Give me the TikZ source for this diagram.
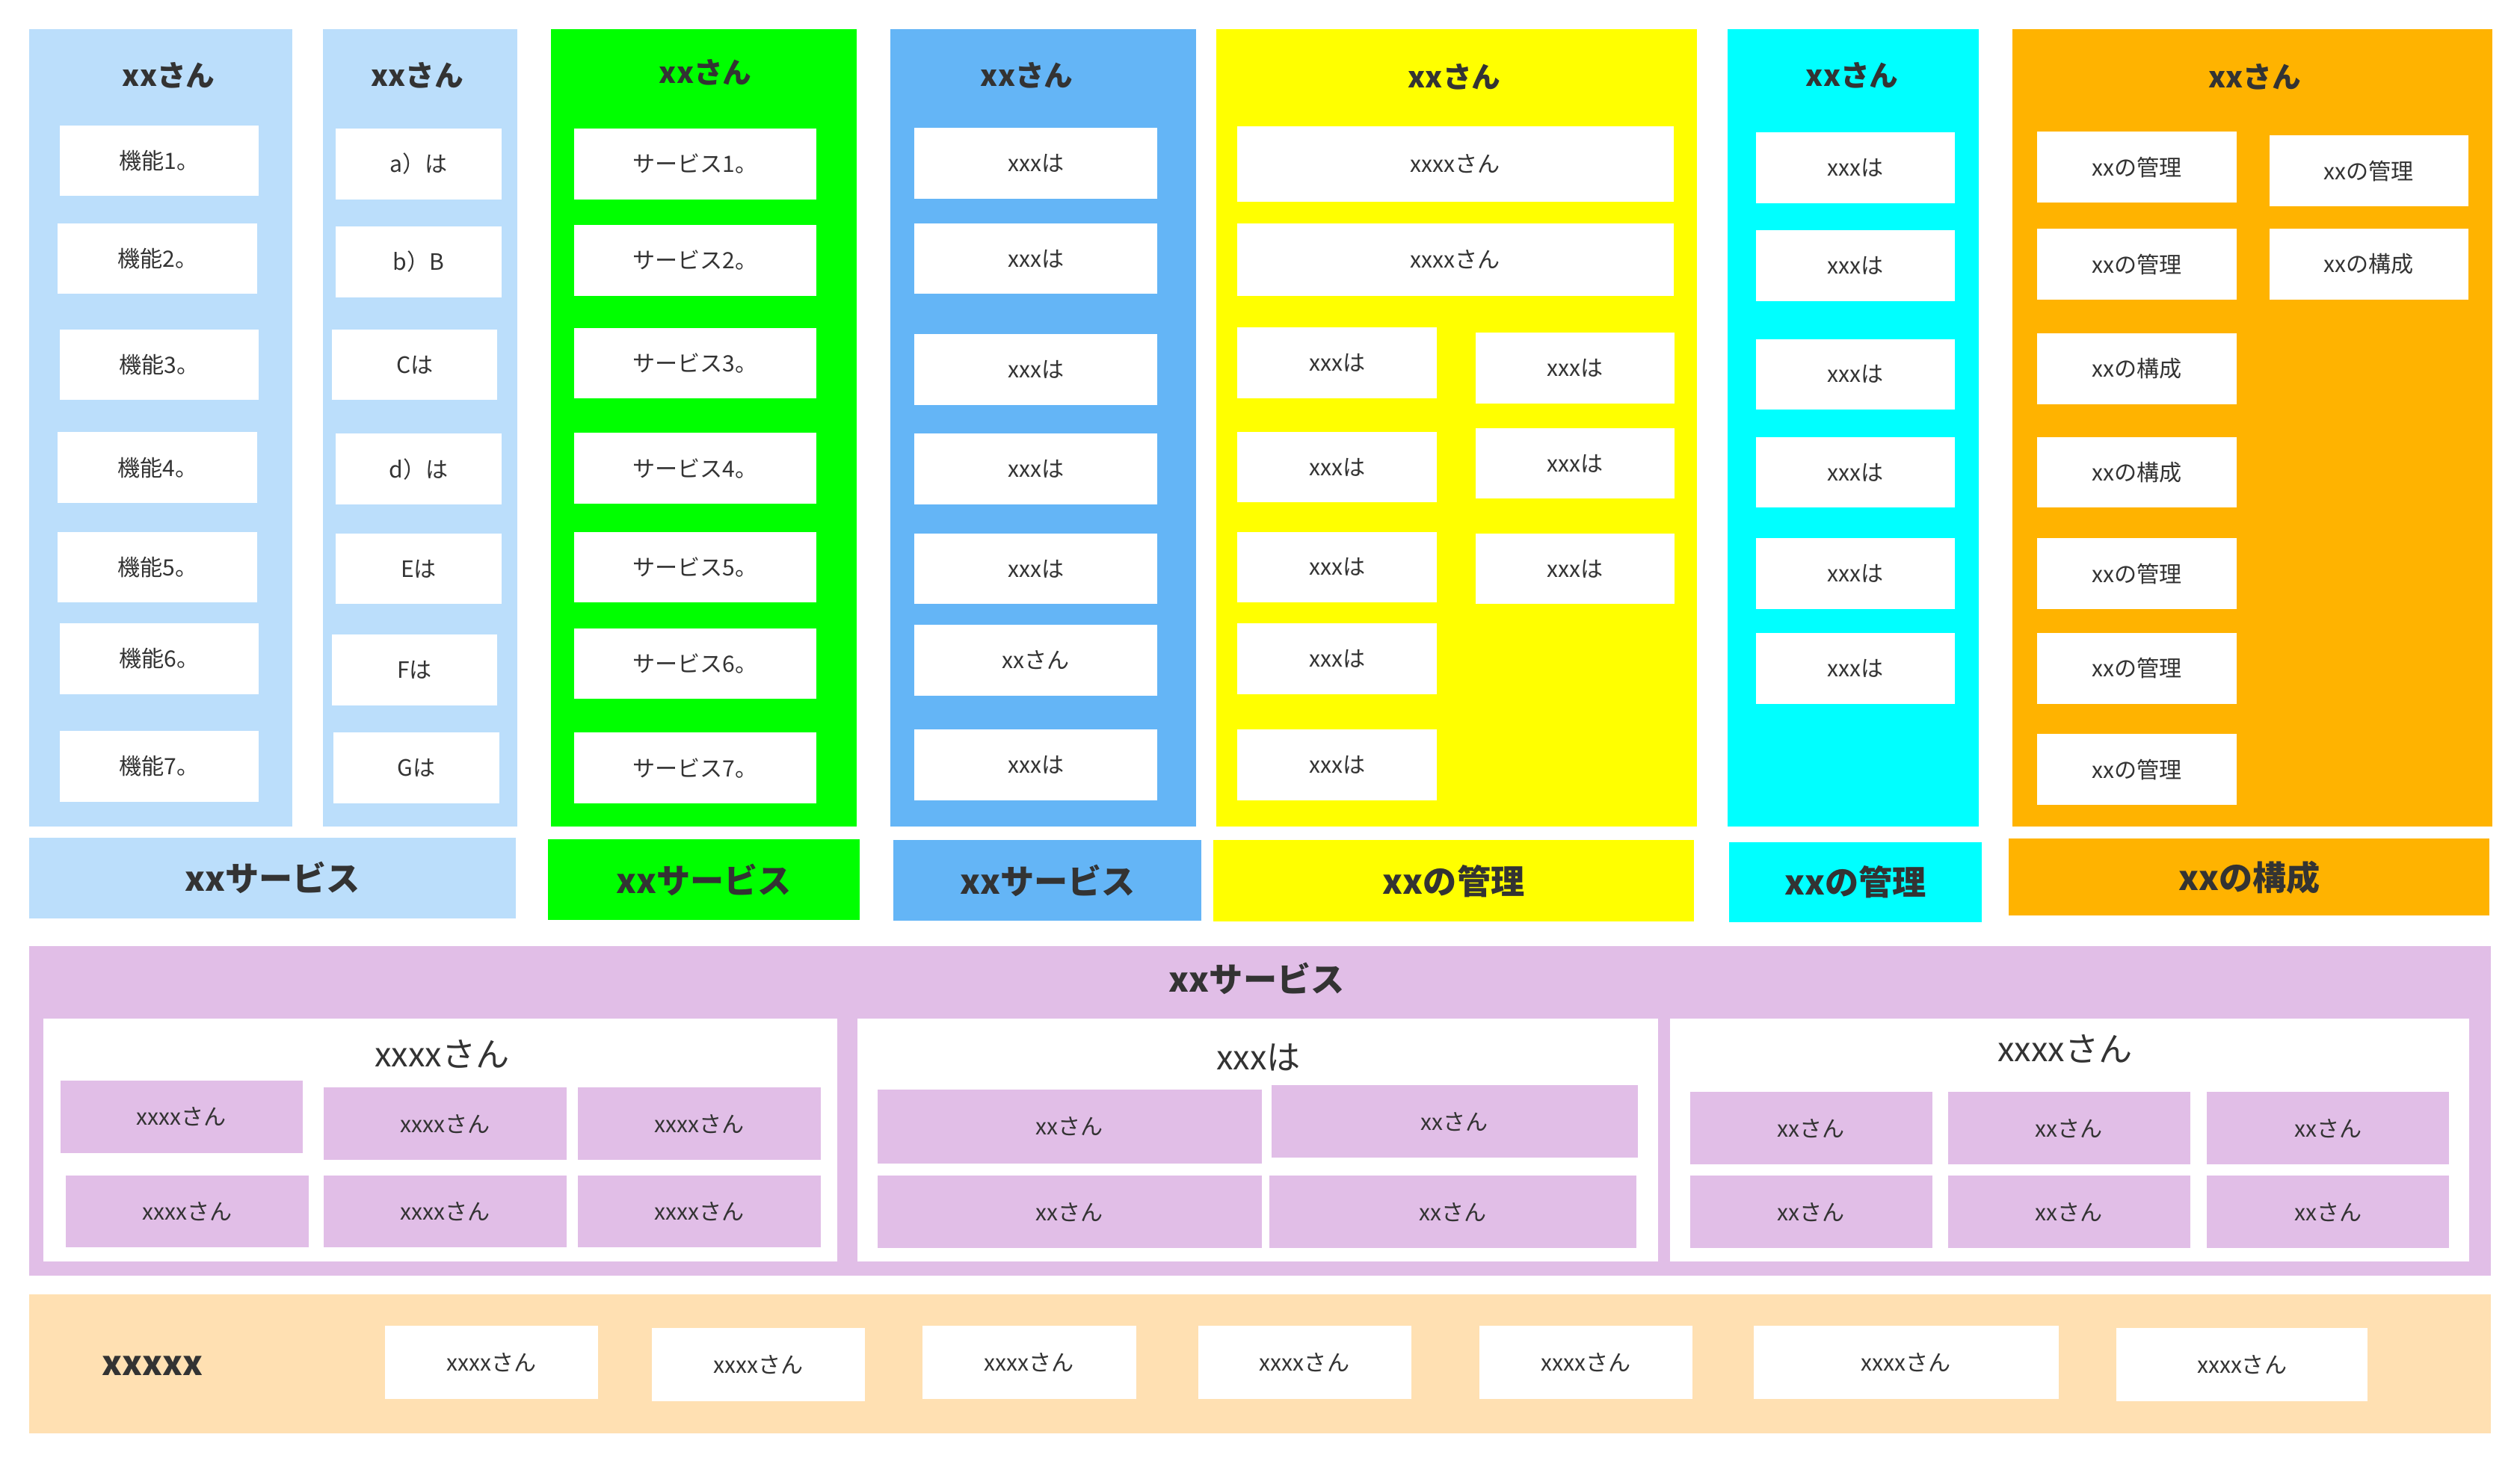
\documentclass[tikz,border=0pt]{standalone}
\usepackage{fontspec}
\setmainfont{Noto Sans CJK JP}
\usepackage{xcolor}
\usetikzlibrary{positioning}

\definecolor{txtgray}{HTML}{333333}
\definecolor{lblue}{HTML}{BBDEFB}
\definecolor{lgreen}{HTML}{00FF00}
\definecolor{mblue}{HTML}{64B5F6}
\definecolor{lyellow}{HTML}{FFFF00}
\definecolor{lcyan}{HTML}{00FFFF}
\definecolor{lorange}{HTML}{FFB300}
\definecolor{lpurple}{HTML}{E1BEE7}
\definecolor{lpeach}{HTML}{FFE0B2}

\newcommand{\fsz}[1]{\fontsize{#1pt}{#1pt}\selectfont}

\tikzset{
    panel/.style={fill=#1, inner sep=0pt},
    cell/.style={fill=white, inner sep=0pt, minimum width=124, minimum height=44, text=txtgray, font=\fsz{14}},
    pcell/.style={cell, fill=lpurple, minimum width=151, minimum height=45},
    head/.style={inner sep=0pt, text=txtgray, font=\fsz{18}\bfseries},
    grptitle/.style={inner sep=0pt, text=txtgray, font=\fsz{21}},
    tag/.style={inner sep=0pt, text=txtgray, font=\fsz{21}\bfseries},
}

\begin{document}
\begin{tikzpicture}[x=1pt, y=-1pt]
    \fill[white] (0,0) rectangle (1568,909);
    \useasboundingbox (0,0) rectangle (1568,909);

    % columns
    \node[panel=lblue, minimum width=164, minimum height=496.5] (col1) at (100,266.25) {};
    \node[panel=lblue, minimum width=121, minimum height=496.5] (col2) at (261.5,266.25) {};
    \node[panel=lgreen, minimum width=190, minimum height=496.5] (col3) at (438,266.25) {};
    \node[panel=mblue, minimum width=190, minimum height=496.5] (col4) at (649,266.25) {};
    \node[panel=lyellow, minimum width=299, minimum height=496.5] (col5) at (906.5,266.25) {};
    \node[panel=lcyan, minimum width=156, minimum height=496.5] (col6) at (1153,266.25) {};
    \node[panel=lorange, minimum width=299, minimum height=496.5] (col7) at (1401.5,266.25) {};

    \node[head] (h1) at (105,47) {xxさん};
    \node[head] (h2) at (259.5,47) {xxさん};
    \node[head] (h3) at (439,45) {xxさん};
    \node[head] (h4) at (639,47) {xxさん};
    \node[head] (h5) at (905,48) {xxさん};
    \node[head] (h6) at (1152.5,47) {xxさん};
    \node[head] (h7) at (1403,48) {xxさん};

    \foreach \cx/\cy/\lbl [count=\i] in {99/100/機能1。, 98/161/機能2。, 99/227/機能3。, 98/291/機能4。, 98/353/機能5。, 99/410/機能6。, 99/477/機能7。}
        \node[cell] (fn\i) at (\cx,\cy) {\lbl};
    \foreach \cx/\cy/\lbl [count=\i] in {260.5/102/a）は, 260.5/163/b）B, 258/227/Cは, 260.5/292/d）は, 260.5/354/Eは, 258/417/Fは, 259/478/Gは}
        \node[cell, minimum width=103] (ab\i) at (\cx,\cy) {\lbl};
    \foreach \cy/\lbl [count=\i] in {102/サービス1。, 162/サービス2。, 226/サービス3。, 291.5/サービス4。, 353/サービス5。, 413/サービス6。, 478/サービス7。}
        \node[cell, minimum width=151] (sv\i) at (432.5,\cy) {\lbl};
    \foreach \cy/\lbl [count=\i] in {101.5/xxxは, 161/xxxは, 230/xxxは, 292/xxxは, 354/xxxは, 411/xxさん, 476/xxxは}
        \node[cell, minimum width=151] (bl\i) at (644.5,\cy) {\lbl};

    % yellow column
    \node[cell, minimum width=271.5, minimum height=47] (yw1) at (905.5,102) {xxxxさん};
    \node[cell, minimum width=271.5, minimum height=45] (yw2) at (905.5,161.5) {xxxxさん};
    \foreach \cy [count=\i] in {225.7, 290.8, 353, 410, 476}
        \node[cell] (yl\i) at (832,\cy) {xxxは};
    \foreach \cy [count=\i] in {229, 288.4, 354}
        \node[cell] (yr\i) at (980,\cy) {xxxは};

    % cyan column
    \foreach \cy [count=\i] in {104.5, 165.4, 233, 294, 357, 416}
        \node[cell] (cy\i) at (1154.5,\cy) {xxxは};

    % orange column
    \foreach \cy/\lbl [count=\i] in {104/xxの管理, 164.5/xxの管理, 229.5/xxの構成, 294/xxの構成, 357/xxの管理, 416/xxの管理, 479/xxの管理}
        \node[cell] (ol\i) at (1329.5,\cy) {\lbl};
    \node[cell] (or1) at (1474,106.4) {xxの管理};
    \node[cell] (or2) at (1474,164.5) {xxの構成};

    % labels under the columns
    \node[panel=lblue, tag, minimum width=303, minimum height=50] (t1) at (169.5,546.5) {xxサービス};
    \node[panel=lgreen, tag, minimum width=194, minimum height=50] (t2) at (438,547.5) {xxサービス};
    \node[panel=mblue, tag, minimum width=191.5, minimum height=50] (t3) at (651.8,548) {xxサービス};
    \node[panel=lyellow, tag, minimum width=299, minimum height=50.5] (t4) at (904.5,548.3) {xxの管理};
    \node[panel=lcyan, tag, minimum width=157, minimum height=50] (t5) at (1154.5,549) {xxの管理};
    \node[panel=lorange, tag, minimum width=299, minimum height=48] (t6) at (1399.5,546) {xxの構成};

    % purple band
    \node[panel=lpurple, minimum width=1532, minimum height=205] (svc) at (784,691.5) {};
    \node[tag] (svct) at (782,609) {xxサービス};

    \node[panel=white, minimum width=494, minimum height=151] (ga) at (274,709.5) {};
    \node[grptitle] (gat) at (275,656) {xxxxさん};
    \foreach \cx/\cy [count=\i] in {113/695, 277/699.5, 435/699.5, 116.5/754, 277/754, 435/754}
        \node[pcell] (pa\i) at (\cx,\cy) {xxxxさん};

    \node[panel=white, minimum width=498, minimum height=151] (gb) at (782.5,709.5) {};
    \node[grptitle] (gbt) at (783,658) {xxxは};
    \node[pcell, minimum width=239, minimum height=46] (pb1) at (665.5,701) {xxさん};
    \node[pcell, minimum width=228] (pb2) at (905,698) {xxさん};
    \node[pcell, minimum width=239] (pb3) at (665.5,754.3) {xxさん};
    \node[pcell, minimum width=228.5] (pb4) at (904,754.3) {xxさん};

    \node[panel=white, minimum width=497, minimum height=151] (gc) at (1287.8,709.5) {};
    \node[grptitle] (gct) at (1285,653) {xxxxさん};
    \foreach \cx in {1127, 1287.5, 1448.5} {
        \node[pcell] at (\cx,702.2) {xxさん};
        \node[pcell] at (\cx,754.3) {xxさん};
    }

    % peach band
    \node[panel=lpeach, minimum width=1532, minimum height=86.5] (base) at (784,848.7) {};
    \node[tag] (baset) at (95,850) {xxxxx};
    \foreach \cx/\cy/\w [count=\i] in {306/848/132.5, 472/849.5/132.5, 640.5/848/133, 811.7/848/132.5, 986.7/848/132.5, 1186/848/190, 1395/849.5/156}
        \node[cell, minimum width=\w, minimum height=45.5] (bs\i) at (\cx,\cy) {xxxxさん};
\end{tikzpicture}
\end{document}
